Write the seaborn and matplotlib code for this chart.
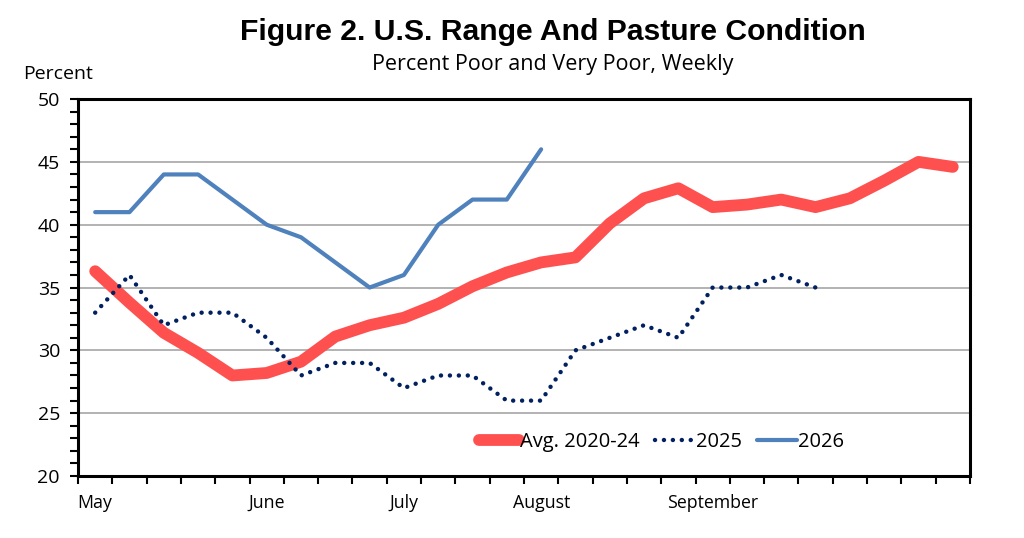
import matplotlib
matplotlib.use("Agg")
import matplotlib.pyplot as plt
from matplotlib.ticker import MultipleLocator, FixedLocator, NullFormatter

import numpy as np
import pandas as pd
import seaborn as sns

# Weekly values
weeks = list(range(26))
month_labels = {0: "May", 5: "June", 9: "July", 13: "August", 18: "September"}

avg_2020_24 = [36.3, 33.8, 31.4, 29.8, 28.0, 28.2, 29.1, 31.1, 32.0, 32.6, 33.7, 35.1, 36.2,
               37.0, 37.4, 40.1, 42.1, 42.9, 41.4, 41.6, 42.0, 41.4, 42.1, 43.5, 45.0, 44.6]
y2025 = [33, 36, 32, 33, 33, 31, 28, 29, 29, 27, 28, 28, 26, 26, 30, 31, 32, 31, 35, 35, 36, 35]
y2026 = [41, 41, 44, 44, 42, 40, 39, 37, 35, 36, 40, 42, 42, 46]

sns.set_theme(style="white")
plt.rcParams["font.family"] = ["Open Sans", "DejaVu Sans"]
plt.rcParams["text.color"] = "black"
plt.rcParams["xtick.color"] = "black"
plt.rcParams["ytick.color"] = "black"
plt.rcParams["xtick.labelcolor"] = "black"
plt.rcParams["ytick.labelcolor"] = "black"

fig = plt.figure(figsize=(10.24, 5.38), dpi=100)
ax = fig.add_axes([0.0762, 0.1152, 0.871, 0.7007])

# horizontal gridlines
for v in [25, 30, 35, 40, 45]:
    ax.axhline(v, color="#A6A6A6", lw=1.2, zorder=0)

sns.lineplot(x=weeks, y=avg_2020_24, ax=ax, color="#FF5050", lw=8.5,
             solid_capstyle="round", solid_joinstyle="round", label="Avg. 2020-24", zorder=3)
sns.lineplot(x=weeks[:len(y2025)], y=y2025, ax=ax, color="#002060", lw=3.2,
             linestyle=(0, (0.01, 2.0)), dash_capstyle="round", label="2025", zorder=4)
sns.lineplot(x=weeks[:len(y2026)], y=y2026, ax=ax, color="#4F81BD", lw=3,
             solid_capstyle="round", solid_joinstyle="round", label="2026", zorder=5)

ax.set_xlim(-0.5, 25.5)
ax.set_ylim(20, 50)

# y axis: labels every 5, small ticks every 1
ax.yaxis.set_major_locator(MultipleLocator(5))
ax.yaxis.set_minor_locator(MultipleLocator(1))
ax.tick_params(axis="y", which="both", direction="out", length=6, width=1.5,
               left=True, color="black", labelsize=14, pad=7)

# x axis: ticks between weeks, month names centred on their week
ax.xaxis.set_major_locator(FixedLocator(list(month_labels.keys())))
ax.set_xticklabels(list(month_labels.values()))
ax.xaxis.set_minor_locator(FixedLocator(np.arange(-0.5, 26, 1)))
ax.xaxis.set_minor_formatter(NullFormatter())
ax.tick_params(axis="x", which="major", length=0, labelsize=12.8, pad=13)
ax.tick_params(axis="x", which="minor", direction="out", length=6, width=1.5,
               bottom=True, color="black")

for side in ["left", "right", "top", "bottom"]:
    ax.spines[side].set_visible(True)
    ax.spines[side].set_color("black")
    ax.spines[side].set_linewidth(2.2)

ax.set_xlabel("")
ax.set_ylabel("")

leg = ax.legend(loc="center left", bbox_to_anchor=(0.44, 0.09), ncol=3, frameon=False,
                fontsize=14.5, handlelength=2.0, handletextpad=0.05, columnspacing=0.75,
                borderaxespad=0)
for line in leg.get_lines():
    line.set_solid_capstyle("round")

fig.text(0.540, 0.9257, "Figure 2. U.S. Range And Pasture Condition", ha="center",
         va="baseline", fontsize=21.7, fontweight="bold", family=["Liberation Sans", "DejaVu Sans"])
fig.text(0.540, 0.870, "Percent Poor and Very Poor, Weekly", ha="center", va="baseline",
         fontsize=15.5)
fig.text(0.0225, 0.853, "Percent", ha="left", va="baseline", fontsize=14)

plt.savefig("out.png", dpi=100)
plt.close()
